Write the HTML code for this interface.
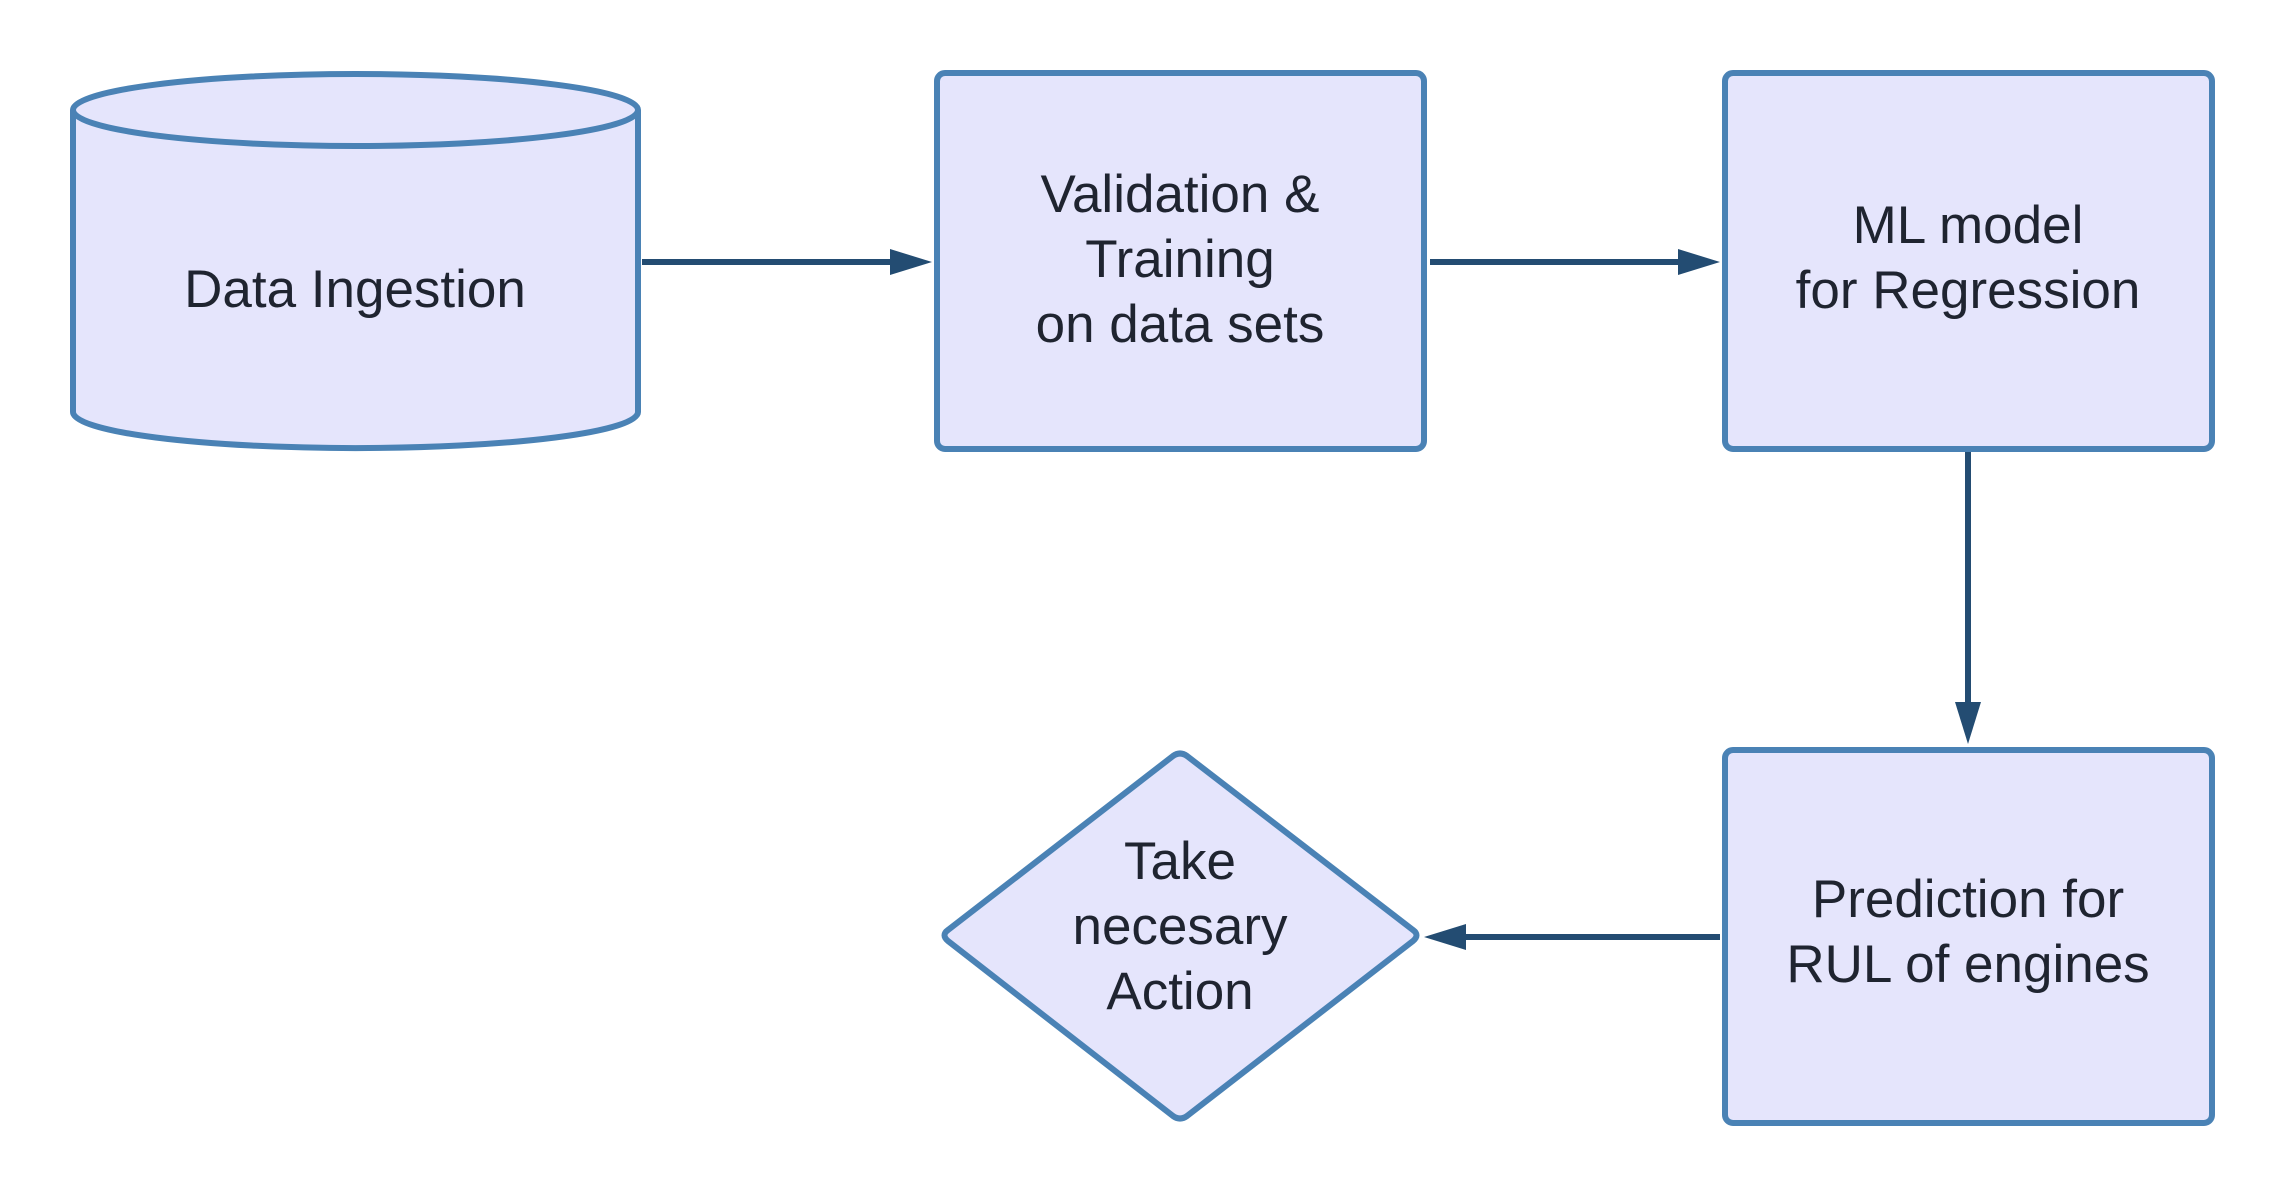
<!DOCTYPE html>
<html><head><meta charset="utf-8"><style>html,body{margin:0;padding:0;background:#fff}svg{display:block}</style></head>
<body>
<svg width="2288" height="1200" viewBox="0 0 2288 1200" xmlns="http://www.w3.org/2000/svg">
<g fill="#e5e5fc" stroke="#4a82b5" stroke-width="6" stroke-linejoin="round">
<path d="M73,110 L73,412 A282,36 0 0 0 638,412 L638,110"/>
<ellipse cx="355.5" cy="110" rx="282.5" ry="36"/>
<rect x="937" y="73" width="487" height="376" rx="8"/>
<rect x="1725" y="73" width="487" height="376" rx="8"/>
<rect x="1725" y="750" width="487" height="373" rx="8"/>
<path d="M1187,756 L1413,930 Q1420,935 1413,941 L1187,1116 Q1180,1121 1173,1116 L948,941 Q941,935 948,930 L1173,756 Q1180,751 1187,756 Z"/>
</g>
<g stroke="#234c72" stroke-width="6" fill="none">
<line x1="642" y1="262" x2="895" y2="262"/>
<line x1="1430" y1="262" x2="1683" y2="262"/>
<line x1="1968" y1="452" x2="1968" y2="705"/>
<line x1="1720" y1="937" x2="1463" y2="937"/>
</g>
<g fill="#234c72">
<polygon points="932,262 890,249 890,275"/>
<polygon points="1720,262 1678,249 1678,275"/>
<polygon points="1968,744 1955,702 1981,702"/>
<polygon points="1424,937 1466,924 1466,950"/>
</g>
<g font-family="Liberation Sans, sans-serif" font-size="53" fill="#1f2430" text-anchor="middle">
<text x="355" y="307">Data Ingestion</text>
<text x="1180" y="212">Validation &amp;</text>
<text x="1180" y="277">Training</text>
<text x="1180" y="342">on data sets</text>
<text x="1968" y="243">ML model</text>
<text x="1968" y="308">for Regression</text>
<text x="1968" y="917">Prediction for</text>
<text x="1968" y="982">RUL of engines</text>
<text x="1180" y="879">Take</text>
<text x="1180" y="944">necesary</text>
<text x="1180" y="1009">Action</text>
</g>
</svg>
</body></html>
